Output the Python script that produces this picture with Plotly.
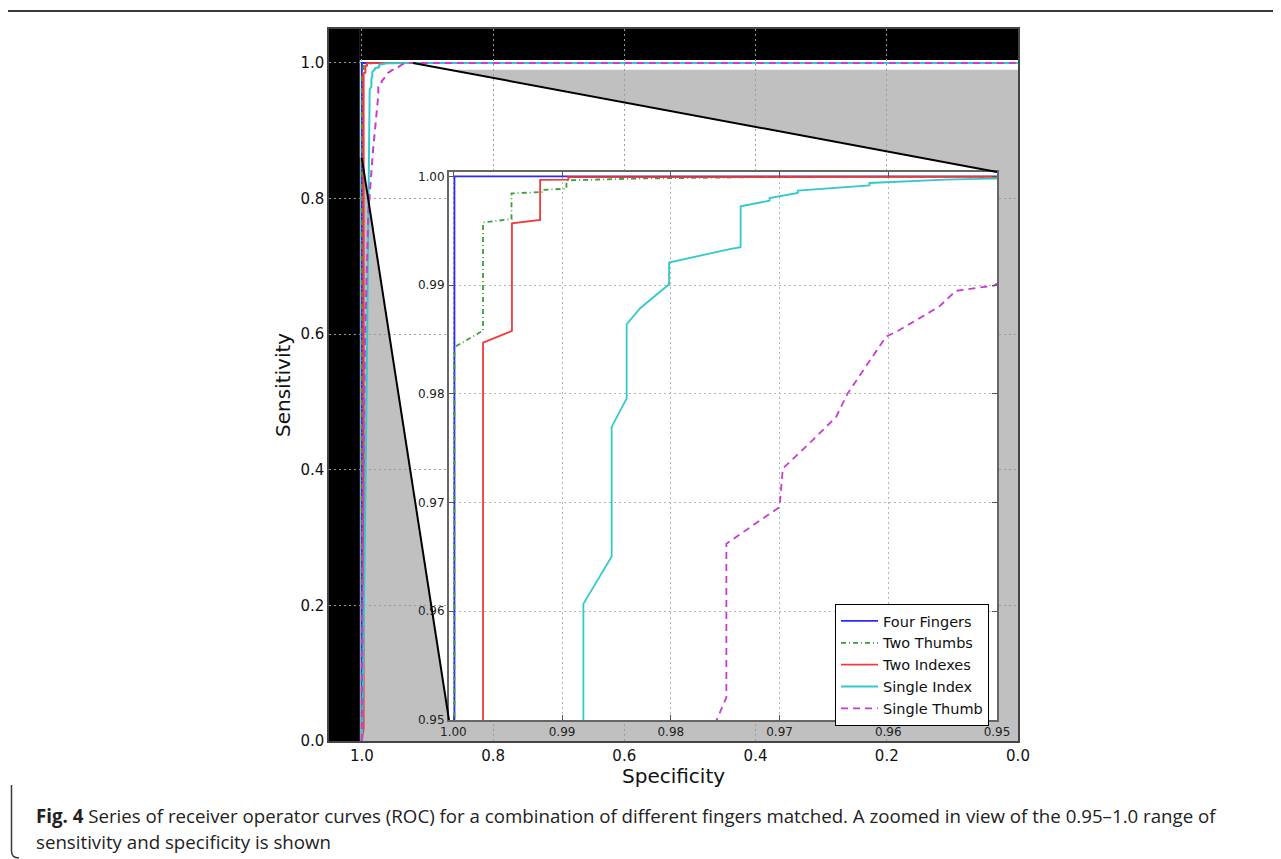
import plotly.graph_objects as go

# ---------------- data (specificity, sensitivity) ----------------
series_names = ["Four Fingers", "Two Thumbs", "Two Indexes", "Single Index", "Single Thumb"]

four_fingers_spec = [1.0, 0.9999, 0.9999, 0.0]
four_fingers_sens = [0.0, 0.5, 1.0, 1.0]

two_thumbs_spec = [1.0, 0.9999, 0.9999, 0.99727, 0.99727, 0.99465, 0.99465, 0.99171, 0.99171,
                   0.98960, 0.98960, 0.98300, 0.97000, 0.96000, 0.0]
two_thumbs_sens = [0.0, 0.5, 0.98430, 0.98581, 0.99576, 0.99607, 0.99843, 0.99856, 0.99876,
                   0.99886, 0.99963, 0.99980, 0.99995, 1.0, 1.0]

two_indexes_spec = [1.0, 0.99727, 0.99727, 0.99461, 0.99461, 0.99202, 0.99202, 0.98942, 0.98942,
                    0.95, 0.0]
two_indexes_sens = [0.0, 0.02, 0.98470, 0.98578, 0.99568, 0.99600, 0.99968, 0.99970, 0.99992,
                    0.99995, 1.0]

single_index_spec = [1.0, 0.998, 0.994, 0.992, 0.990, 0.98804, 0.98804, 0.98544, 0.98544, 0.98406,
                     0.98406, 0.98282, 0.98016, 0.98016, 0.97459, 0.97358, 0.97358, 0.97092,
                     0.97092, 0.96832, 0.96832, 0.96174, 0.96174, 0.95777, 0.95471, 0.95043,
                     0.92, 0.0]
single_index_sens = [0.0, 0.1, 0.4, 0.6, 0.845, 0.94, 0.96068, 0.96504, 0.97696, 0.97958,
                     0.98640, 0.98787, 0.99008, 0.99207, 0.99331, 0.99349, 0.99724, 0.99776,
                     0.99801, 0.99847, 0.99868, 0.99917, 0.99939, 0.99960, 0.99970, 0.99979,
                     1.0, 1.0]

single_thumb_spec = [1.0, 0.9985, 0.995, 0.990, 0.983, 0.977, 0.97581, 0.97489, 0.97489, 0.97000,
                     0.96970, 0.96695, 0.96480, 0.96373, 0.96021, 0.95897, 0.95532, 0.95379,
                     0.95028, 0.945, 0.938, 0.93, 0.0]
single_thumb_sens = [0.0, 0.3, 0.6, 0.78, 0.87, 0.935, 0.94993, 0.95208, 0.96621, 0.96959,
                     0.97313, 0.97574, 0.97788, 0.98004, 0.98525, 0.98587, 0.98802, 0.98947,
                     0.98995, 0.993, 0.998, 1.0, 1.0]

main_ticks = [0.0, 0.2, 0.4, 0.6, 0.8, 1.0]
inset_ticks = [0.95, 0.96, 0.97, 0.98, 0.99, 1.00]

caption_bold = "Fig. 4"
caption_line1 = (" Series of receiver operator curves (ROC) for a combination of different fingers "
                 "matched. A zoomed in view of the 0.95–1.0 range of")
caption_line2 = "sensitivity and specificity is shown"

# ---------------- styles / layout geometry (screen pixels) ----------------
colors = ["#2a2aff", "#3a9e3a", "#f03a3a", "#33c9c9", "#c83ccf"]
dashes = ["solid", "5px,3px,1px,3px", "solid", "solid", "7px,5px"]

OFF = 8  # page body margin in the browser
W, H = 1281 - OFF, 859 - OFF
MAIN = dict(x0=329, x1=1018, top=29, bottom=741)
INS = dict(x0=449, x1=997, top=172, bottom=720)
MAIN_XR = [1.05, 0.0]
MAIN_YR = [0.0, 1.05]
INS_XR = [1.0004, 0.95]
INS_YR = [0.95, 1.0004]


def px(sx):
    return (sx - OFF) / W


def py(sy):
    return 1 - (sy - OFF) / H


def xdom(d):
    return [px(d["x0"]), px(d["x1"])]


def ydom(d):
    return [py(d["bottom"]), py(d["top"])]


def screen_to_main(sx, sy):
    fx = (sx - MAIN["x0"]) / (MAIN["x1"] - MAIN["x0"])
    fy = (MAIN["bottom"] - sy) / (MAIN["bottom"] - MAIN["top"])
    return (MAIN_XR[0] + fx * (MAIN_XR[1] - MAIN_XR[0]),
            MAIN_YR[0] + fy * (MAIN_YR[1] - MAIN_YR[0]))


spec_data = [four_fingers_spec, two_thumbs_spec, two_indexes_spec, single_index_spec, single_thumb_spec]
sens_data = [four_fingers_sens, two_thumbs_sens, two_indexes_sens, single_index_sens, single_thumb_sens]

fig = go.Figure()

for name, xs, ys, c, d in zip(series_names, spec_data, sens_data, colors, dashes):
    fig.add_trace(go.Scatter(x=xs, y=ys, mode="lines", name=name, showlegend=False,
                             line=dict(color=c, width=2, dash=d), xaxis="x", yaxis="y",
                             hoverinfo="skip"))
for name, xs, ys, c, d in zip(series_names, spec_data, sens_data, colors, dashes):
    fig.add_trace(go.Scatter(x=xs, y=ys, mode="lines", name=name, showlegend=True,
                             line=dict(color=c, width=1.8, dash=d), xaxis="x2", yaxis="y2"))

# ---------------- background decorations of the main axes ----------------
ins_tr = screen_to_main(INS["x1"], INS["top"])
ins_br = screen_to_main(INS["x1"], INS["bottom"])
ins_bl = screen_to_main(INS["x0"], INS["bottom"])
top_conn_start = (0.922, 1.0)
bot_conn_start = (1.0, 0.86)
band_top = 1.0044
band_bot = 0.99
t = (top_conn_start[1] - band_bot) / (top_conn_start[1] - ins_tr[1])
d_x = top_conn_start[0] + t * (ins_tr[0] - top_conn_start[0])

poly = [(1.003, band_top), (0.0, band_top), (0.0, band_bot), (d_x, band_bot), ins_tr, ins_br,
        ins_bl, bot_conn_start, (1.003, bot_conn_start[1])]
path = "M " + " L ".join(f"{x},{y}" for x, y in poly) + " Z"

shapes = [
    dict(type="rect", xref="x", yref="y", x0=MAIN_XR[0], x1=MAIN_XR[1], y0=MAIN_YR[0], y1=MAIN_YR[1],
         fillcolor="#c0c0c0", line=dict(width=0), layer="below"),
    dict(type="rect", xref="x", yref="y", x0=MAIN_XR[0], x1=1.003, y0=MAIN_YR[0], y1=MAIN_YR[1],
         fillcolor="#000000", line=dict(width=0), layer="below"),
    dict(type="rect", xref="x", yref="y", x0=1.003, x1=MAIN_XR[1], y0=band_top, y1=MAIN_YR[1],
         fillcolor="#000000", line=dict(width=0), layer="below"),
    dict(type="path", xref="x", yref="y", path=path, fillcolor="#ffffff", line=dict(width=0),
         layer="below"),
    dict(type="line", xref="x", yref="y", x0=top_conn_start[0], y0=top_conn_start[1],
         x1=ins_tr[0], y1=ins_tr[1], line=dict(color="#000000", width=2), layer="above"),
    dict(type="line", xref="x", yref="y", x0=bot_conn_start[0], y0=bot_conn_start[1],
         x1=ins_bl[0], y1=ins_bl[1], line=dict(color="#000000", width=2), layer="above"),
    # page frame
    dict(type="line", xref="paper", yref="paper", x0=0, x1=1, y0=py(11), y1=py(11),
         line=dict(color="#3a3a3a", width=2), layer="above"),
    dict(type="path", xref="paper", yref="paper",
         path=f"M {px(11.5)},{py(785)} L {px(11.5)},{py(851)} Q {px(11.5)},{py(858)} {px(19)},{py(858)}",
         line=dict(color="#3a3a3a", width=1.5), layer="above"),
]

tick_font = dict(family="DejaVu Sans", size=15, color="#111111")
ins_font = dict(family="DejaVu Sans", size=12, color="#222222")

fig.update_layout(
    width=W, height=H,
    margin=dict(l=0, r=0, t=0, b=0),
    paper_bgcolor="#ffffff",
    plot_bgcolor="#ffffff",
    showlegend=True,
    shapes=shapes,
    xaxis=dict(domain=xdom(MAIN), range=MAIN_XR, tickvals=main_ticks, tickformat=".1f",
               showgrid=True, gridcolor="#9c9c9c", griddash="2px,3px", gridwidth=1, zeroline=False,
               showline=True, mirror=True, linecolor="#444444", linewidth=1.5, ticks="",
               tickfont=tick_font, automargin=False, anchor="y"),
    yaxis=dict(domain=ydom(MAIN), range=MAIN_YR, tickvals=main_ticks, tickformat=".1f",
               showgrid=True, gridcolor="#9c9c9c", griddash="2px,3px", gridwidth=1, zeroline=False,
               showline=True, mirror=True, linecolor="#444444", linewidth=1.5, ticks="",
               tickfont=tick_font, automargin=False, anchor="x"),
    xaxis2=dict(domain=xdom(INS), range=INS_XR, tickvals=inset_ticks, tickformat=".2f",
                showgrid=True, gridcolor="#b4b4b4", griddash="2px,3px", gridwidth=1, zeroline=False,
                showline=True, mirror="ticks", linecolor="#666666", linewidth=2, ticks="inside",
                ticklen=5, tickcolor="#555555", tickfont=ins_font, automargin=False, anchor="y2"),
    yaxis2=dict(domain=ydom(INS), range=INS_YR, tickvals=inset_ticks, tickformat=".2f",
                showgrid=True, gridcolor="#b4b4b4", griddash="2px,3px", gridwidth=1, zeroline=False,
                showline=True, mirror="ticks", linecolor="#666666", linewidth=2, ticks="inside",
                ticklen=5, tickcolor="#555555", tickfont=ins_font, automargin=False, anchor="x2"),
    legend=dict(x=px(835), y=py(604), xanchor="left", yanchor="top", bgcolor="#ffffff",
                bordercolor="#000000", borderwidth=1,
                font=dict(family="DejaVu Sans", size=14.5, color="#111111"),
                tracegroupgap=0, itemwidth=37),
    annotations=[
        dict(text="Specificity", xref="paper", yref="paper", x=px(673.5), y=py(776),
             showarrow=False, font=dict(family="DejaVu Sans", size=20, color="#111111"),
             xanchor="center", yanchor="middle"),
        dict(text="Sensitivity", xref="paper", yref="paper", x=px(283), y=py(385),
             showarrow=False, textangle=-90,
             font=dict(family="DejaVu Sans", size=20, color="#111111"),
             xanchor="center", yanchor="middle"),
        dict(text=f"<b>{caption_bold}</b>{caption_line1}", xref="paper", yref="paper",
             x=px(34), y=py(815), showarrow=False, xanchor="left", yanchor="middle",
             font=dict(family="Open Sans", size=18.7, color="#222222")),
        dict(text=caption_line2, xref="paper", yref="paper",
             x=px(34), y=py(841), showarrow=False, xanchor="left", yanchor="middle",
             font=dict(family="Open Sans", size=18.7, color="#222222")),
    ],
)

fig.write_html("out.html")
